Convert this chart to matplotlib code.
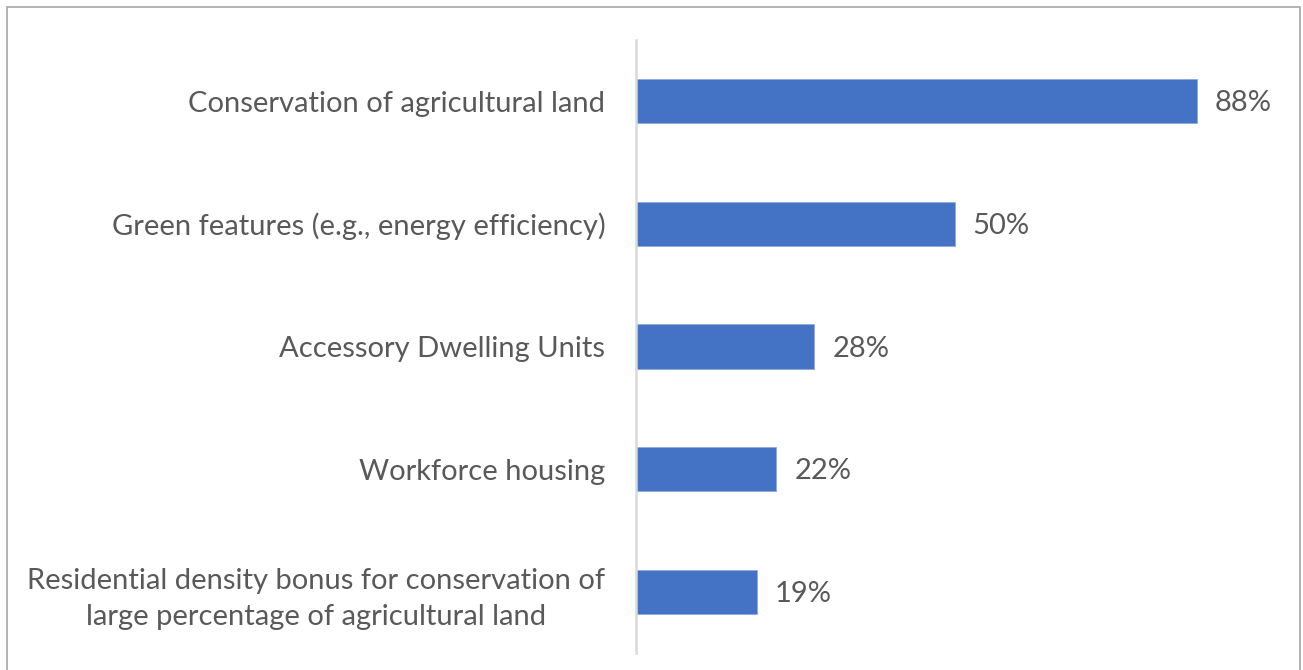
import matplotlib
matplotlib.use("Agg")
import matplotlib.pyplot as plt
from matplotlib.patches import Rectangle

categories = [
    "Conservation of agricultural land",
    "Green features (e.g., energy efficiency)",
    "Accessory Dwelling Units",
    "Workforce housing",
    "Residential density bonus for conservation of\nlarge percentage of agricultural land",
]
values = [88, 50, 28, 22, 19]
value_labels = ["88%", "50%", "28%", "22%", "19%"]

plt.rcParams['font.family'] = ['Lato', 'DejaVu Sans']
text_color = "#595959"
bar_color = "#4472C4"

fig = plt.figure(figsize=(13.03, 6.70), dpi=100)
ax = fig.add_axes([636/1303, 1-653/670, (1273-636)/1303, (653-40)/670])

y = list(range(len(categories)))
ax.barh(y, values, height=0.36, color=bar_color, edgecolor="#8FAADC", linewidth=0.6)
ax.set_ylim(len(categories)-0.5, -0.5)
ax.set_xlim(0, 100)
ax.set_yticks(y)
ax.set_yticklabels(categories, fontsize=21, color=text_color, multialignment="center",
                   linespacing=1.45)
ax.tick_params(axis="y", length=0, pad=22)
ax.set_xticks([])
for s in ["top", "right", "bottom"]:
    ax.spines[s].set_visible(False)
ax.spines["left"].set_color("#d9d9d9")
ax.spines["left"].set_linewidth(1.8)

for yi, v, lab in zip(y, values, value_labels):
    ax.annotate(lab, (v, yi), xytext=(13, -1.5), textcoords="offset points",
                va="center", ha="left", fontsize=21, color=text_color)

fig.patches.append(Rectangle((7/1303, -0.05), (1300-7)/1303, 1.05 - 7/670,
                             transform=fig.transFigure, fill=False,
                             edgecolor="#a6a6a6", linewidth=1.2))

fig.savefig("out.png", dpi=100)
